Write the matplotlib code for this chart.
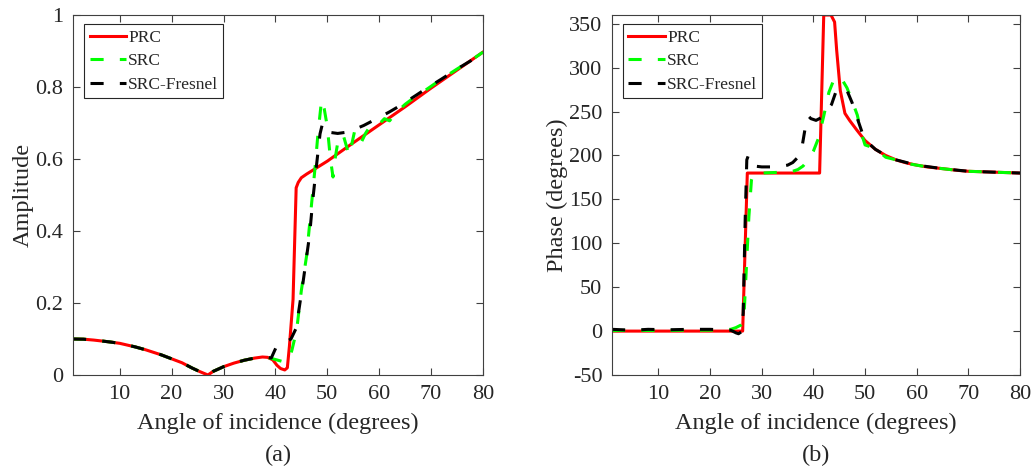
import matplotlib
matplotlib.use("Agg")
import matplotlib.pyplot as plt

plt.rcParams['font.family'] = ['Liberation Serif', 'DejaVu Serif']
plt.rcParams['axes.unicode_minus'] = False
TXT = '#262626'
plt.rcParams['text.color'] = TXT
plt.rcParams['axes.labelcolor'] = TXT
plt.rcParams['xtick.color'] = '#404040'
plt.rcParams['ytick.color'] = '#404040'
plt.rcParams['xtick.labelcolor'] = TXT
plt.rcParams['ytick.labelcolor'] = TXT

# ---------------- data: panel (a) amplitude ----------------
prc_amp_x = [1, 3, 5, 8, 10, 13, 15, 18, 20, 22, 24, 25.5, 27, 28, 30, 32, 34, 36, 37.5, 38.5,
             39.5, 40.3, 41.0, 41.8, 42.3, 42.7, 43.4, 44.0, 44.4, 45, 46, 47, 48, 50, 55, 60, 65, 70, 75, 80]
prc_amp_y = [0.100, 0.0995, 0.097, 0.092, 0.088, 0.078, 0.070, 0.056, 0.045, 0.034, 0.019, 0.009, 0.0, 0.010,
             0.023, 0.033, 0.041, 0.047, 0.050, 0.049,
             0.042, 0.027, 0.018, 0.014, 0.020, 0.080, 0.210, 0.520, 0.535, 0.548, 0.558, 0.567, 0.576,
             0.594, 0.645, 0.695, 0.745, 0.797, 0.847, 0.897]

src_amp_x = [1, 3, 5, 8, 10, 13, 15, 18, 20, 22, 24, 25.5, 27, 28, 30, 32, 34, 36, 37.5, 38.5,
             39.5, 40.5, 41.5, 42.2, 42.7, 43.2, 44.1, 45, 46, 47, 47.6, 48.2, 48.9, 49.4, 50.0, 50.6,
             51.1, 51.5, 52.0, 52.6, 53.1, 53.6, 54.2, 54.7, 55.3, 56.0, 56.6, 57.4, 58.2, 59.0, 60,
             61, 62, 62.6, 63.5, 65, 66.2, 68, 70, 72, 75, 78, 80]
src_amp_y = [0.100, 0.0995, 0.097, 0.092, 0.088, 0.078, 0.070, 0.056, 0.045, 0.034, 0.019, 0.009, 0.0, 0.010,
             0.023, 0.033, 0.041, 0.047, 0.050, 0.049,
             0.045, 0.041, 0.037, 0.036, 0.045, 0.070, 0.125, 0.235, 0.330, 0.480, 0.570, 0.670, 0.765,
             0.740, 0.690, 0.600, 0.550, 0.600, 0.645, 0.668, 0.665, 0.640, 0.610, 0.640, 0.680, 0.665,
             0.648, 0.672, 0.690, 0.688, 0.697, 0.712, 0.706, 0.717, 0.732, 0.752, 0.765, 0.782, 0.802,
             0.822, 0.850, 0.877, 0.897]

fres_amp_x = [1, 3, 5, 8, 10, 13, 15, 18, 20, 22, 24, 25.5, 27, 28, 30, 32, 34, 36, 37.5, 38.5,
              39.2, 40.2, 41, 42, 43, 44, 45.3, 46.6, 47.2, 47.9, 48.6, 49.1, 49.6, 50.5, 52, 54, 57,
              59, 62, 64, 67, 69, 72, 75, 78, 80]
fres_amp_y = [0.100, 0.0995, 0.097, 0.092, 0.088, 0.078, 0.070, 0.056, 0.045, 0.034, 0.019, 0.009, 0.0, 0.010,
              0.023, 0.033, 0.041, 0.047, 0.050, 0.049,
              0.047, 0.079, 0.087, 0.092, 0.100, 0.130, 0.255, 0.390, 0.486, 0.580, 0.670, 0.700, 0.690,
              0.674, 0.671, 0.675, 0.693, 0.708, 0.731, 0.748, 0.776, 0.795, 0.822, 0.850, 0.876, 0.895]

# ---------------- data: panel (b) phase ----------------
prc_ph_x = [1, 26.3, 27.2, 41.2, 42.0, 43.4, 44.1, 44.5, 45.2, 46.1, 47.0, 48.4, 50, 52, 54, 56, 58, 60,
            62, 65, 68, 70, 75, 80]
prc_ph_y = [0, 0, 180, 180, 360, 360, 352, 320, 274, 248, 240, 229, 217, 207, 200, 195, 191.5, 189,
            187, 185, 183, 182, 181, 180]

src_ph_x = [1, 5, 10, 15, 20, 24, 25, 26, 26.5, 27, 27.5, 28, 28.5, 30, 32, 34, 36, 37, 38, 39, 40, 41,
            42, 43, 44, 44.5, 45.5, 46.5, 47.5, 48.5, 49.3, 50, 51, 52, 53, 54, 56, 58, 60, 62, 65, 68,
            70, 75, 80]
src_ph_y = [0.5, 1, 0.5, 1, 1, 2, 4, 7, 10, 70, 130, 172, 180, 180, 180.5, 181, 182, 184, 188, 195, 205,
            220, 245, 272, 287, 290, 287, 277, 262, 246, 225, 212, 210, 208, 203, 198, 195, 191, 189,
            187, 185, 183, 182, 181, 180]

fres_ph_x = [1, 3, 5, 8, 12, 16, 20, 24, 25, 25.5, 26, 26.4, 26.8, 27.1, 27.4, 27.8, 28.5, 30, 32, 34,
             35, 36, 37, 37.8, 38.4, 39, 39.5, 40.5, 41.5, 42.5, 43.5, 44.5, 45.5, 46.5, 47.5, 48.4,
             49.5, 50.5, 52, 54, 56, 60, 65, 70, 75, 80]
fres_ph_y = [2, 1.5, 1, 2, 1.5, 2, 2, 1, -2, -3, -1, 20, 130, 195, 200, 192, 188, 187, 187, 188,
             189, 192, 198, 210, 231, 245, 242, 240, 243, 250, 258, 275, 277, 274, 260, 244,
             225, 215, 207, 200, 195, 189, 185, 182, 181, 180]

labels = ['PRC', 'SRC', 'SRC-Fresnel']
x_ticks = [10, 20, 30, 40, 50, 60, 70, 80]
amp_ticks = [0, 0.2, 0.4, 0.6, 0.8, 1]
amp_ticklabels = ['0', '0.2', '0.4', '0.6', '0.8', '1']
ph_ticks = [-50, 0, 50, 100, 150, 200, 250, 300, 350]

# ---------------- figure ----------------
W, H = 1032, 473
fig = plt.figure(figsize=(W / 100, H / 100), dpi=100)
ax1 = fig.add_axes([73 / W, 1 - 375 / H, 410 / W, 360 / H])
ax2 = fig.add_axes([612 / W, 1 - 375 / H, 408 / W, 360 / H])

LW = 2.2
dash = (0, (4.3, 5.3))


def draw(ax, xa, ya, xb, yb, xc, yc):
    ax.plot(xa, ya, color=(1, 0, 0), lw=LW, label=labels[0])
    ax.plot(xb, yb, color=(0, 1, 0), lw=LW, ls=dash, label=labels[1])
    ax.plot(xc, yc, color='black', lw=LW, ls=dash, label=labels[2])


draw(ax1, prc_amp_x, prc_amp_y, src_amp_x, src_amp_y, fres_amp_x, fres_amp_y)
draw(ax2, prc_ph_x, prc_ph_y, src_ph_x, src_ph_y, fres_ph_x, fres_ph_y)

ax1.set_xlim(1, 80)
ax1.set_ylim(0, 1)
ax1.set_yticks(amp_ticks)
ax1.set_yticklabels(amp_ticklabels)
ax2.set_xlim(1, 80)
ax2.set_ylim(-50, 360)
ax2.set_yticks(ph_ticks)

for ax in (ax1, ax2):
    ax.set_xticks(x_ticks)
    ax.tick_params(direction='in', length=5, width=0.8, top=True, right=True,
                   labelsize=16)
    ax.tick_params(axis='x', pad=7)
    ax.tick_params(axis='y', pad=7)
    for s in ax.spines.values():
        s.set_color('#404040')
        s.set_linewidth(0.8)
    ax.set_xlabel('Angle of incidence (degrees)', fontsize=17.5)
    ax.xaxis.set_label_coords(0.5, -0.135)
    ax.xaxis.label.set_va('center')
    leg = ax.legend(loc='upper left', bbox_to_anchor=(0.0276, 0.974), fontsize=12.5,
                    frameon=True, fancybox=False, framealpha=1, edgecolor='#262626',
                    handlelength=2.1, handletextpad=0.12, borderpad=0.3, labelspacing=0.42,
                    borderaxespad=0.0)
    leg.get_frame().set_linewidth(0.8)

ax1.set_ylabel('Amplitude', fontsize=17.5)
ax1.yaxis.set_label_coords(-0.1207, 0.5)
ax1.yaxis.label.set_va('center')
ax2.set_ylabel('Phase (degrees)', fontsize=17.5)
ax2.yaxis.set_label_coords(-0.1336, 0.5)
ax2.yaxis.label.set_va('center')

fig.text(278 / W, 1 - 455 / H, '(a)', fontsize=17.5, ha='center', va='center')
fig.text(816 / W, 1 - 455 / H, '(b)', fontsize=17.5, ha='center', va='center')

fig.savefig('out.png', dpi=100)
